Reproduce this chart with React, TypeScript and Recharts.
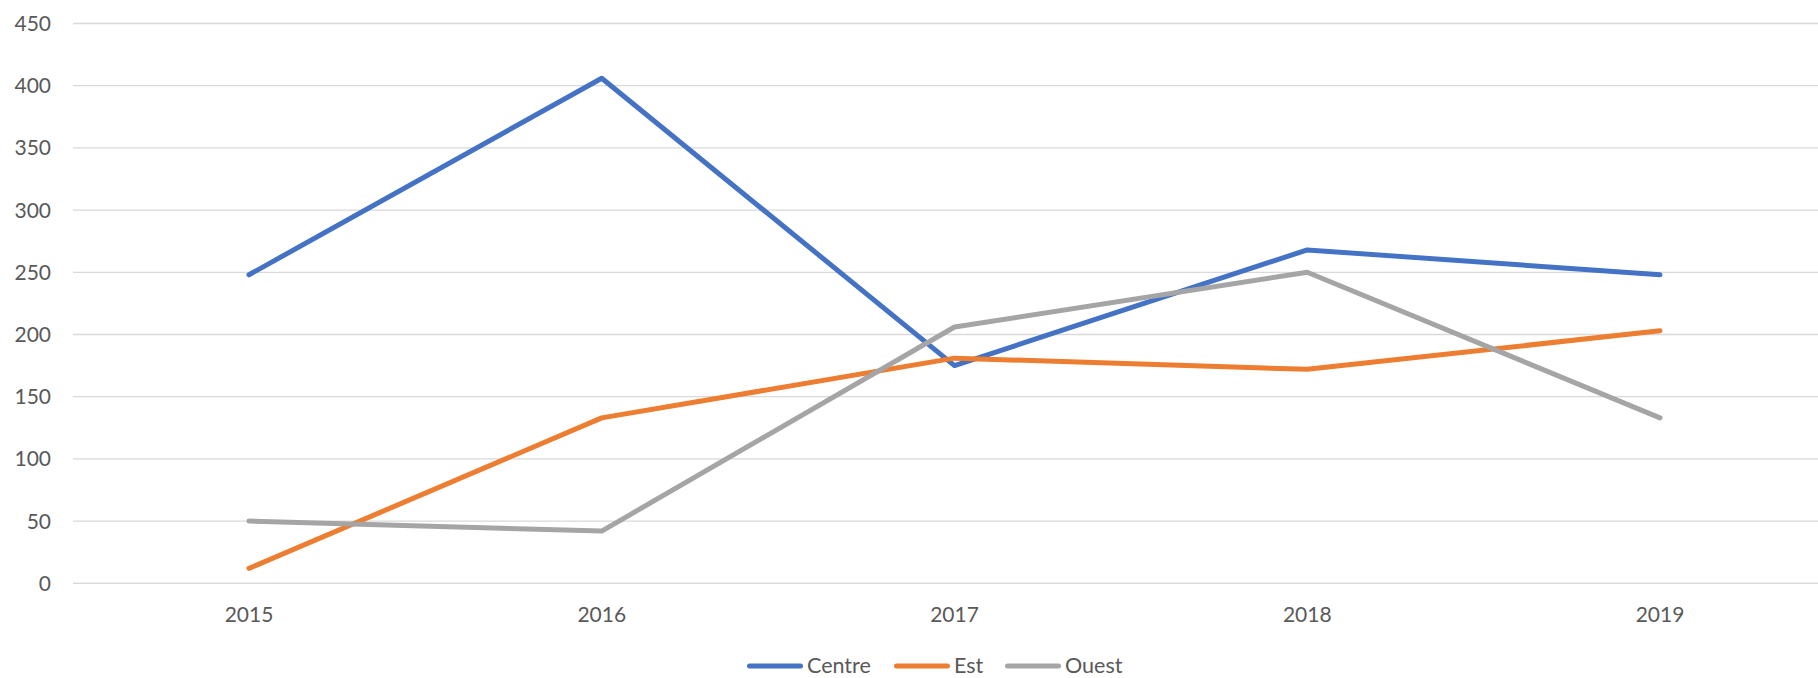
import React from "react";
import { LineChart, Line, XAxis, YAxis, CartesianGrid, Legend } from "recharts";

const categories = ["2015", "2016", "2017", "2018", "2019"];
const centreValues = [248, 406, 175, 268, 248];
const estValues = [12, 133, 181, 172, 203];
const ouestValues = [50, 42, 206, 250, 133];
const yTicks = [0, 50, 100, 150, 200, 250, 300, 350, 400, 450];

const seriesInfo = [
  { key: "Centre", color: "#4472C4" },
  { key: "Est", color: "#ED7D31" },
  { key: "Ouest", color: "#A5A5A5" },
];

const data = categories.map((c, i) => ({
  year: c,
  Centre: centreValues[i],
  Est: estValues[i],
  Ouest: ouestValues[i],
}));

const FONT = "Lato, 'Open Sans', sans-serif";
const TEXT = "#595959";
const legendItemLeft = [747, 894, 1005];

const LegendContent = () => (
  <div style={{ position: "relative", height: 30, width: 1818 }}>
    {seriesInfo.map((s, i) => (
      <div
        key={s.key}
        style={{
          position: "absolute",
          left: legendItemLeft[i],
          top: 6.8,
          display: "flex",
          alignItems: "center",
          fontFamily: FONT,
          fontSize: 21.5,
          color: TEXT,
          whiteSpace: "nowrap",
          height: 20,
        }}
      >
        <svg width={56} height={6} style={{ display: "block", marginTop: 2 }}>
          <line x1={2.5} y1={3} x2={53.5} y2={3} stroke={s.color} strokeWidth={5} strokeLinecap="round" />
        </svg>
        <span style={{ marginLeft: 4, lineHeight: "20px", display: "block", height: 20 }}>{s.key}</span>
      </div>
    ))}
  </div>
);

export default function App() {
  return (
    <div style={{ position: "absolute", left: 0, top: 0, width: 1818, height: 678, overflow: "hidden", background: "#fff" }}>
      <LineChart
        width={1818}
        height={678}
        data={data}
        margin={{ top: 23.5, right: 0, bottom: 34.7, left: 0 }}
      >
        <CartesianGrid vertical={false} stroke="#D9D9D9" strokeWidth={1.3} />
        <XAxis
          dataKey="year"
          height={30}
          padding={{ left: 176, right: 158 }}
          axisLine={{ stroke: "#D9D9D9", strokeWidth: 1.3 }}
          tickLine={false}
          tickMargin={17.7}
          tick={{ fill: TEXT, fontSize: 21, fontFamily: FONT }}
          interval={0}
        />
        <YAxis
          width={73}
          domain={[0, 450]}
          ticks={yTicks}
          axisLine={false}
          tickLine={false}
          tickMargin={16}
          tick={{ fill: TEXT, fontSize: 21, fontFamily: FONT }}
          interval={0}
        />
        <Legend
          verticalAlign="bottom"
          content={<LegendContent />}
          wrapperStyle={{ left: 0, top: 648, width: 1818 }}
        />
        {seriesInfo.map((s) => (
          <Line
            key={s.key}
            type="linear"
            dataKey={s.key}
            stroke={s.color}
            strokeWidth={5}
            strokeLinecap="round"
            strokeLinejoin="round"
            dot={false}
            activeDot={false}
            isAnimationActive={false}
          />
        ))}
      </LineChart>
    </div>
  );
}
